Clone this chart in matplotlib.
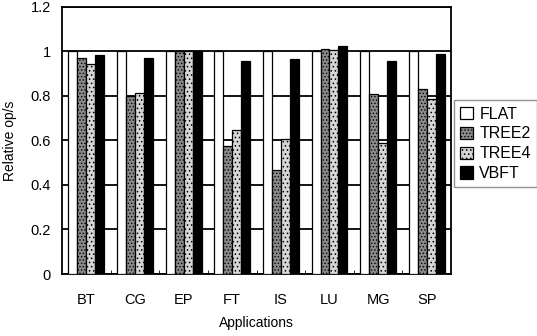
"""
Relative op/s per application, grouped bars
"""
import numpy as np
import matplotlib
matplotlib.use("Agg")
import matplotlib.pyplot as plt

plt.rcParams['font.family'] = ['Liberation Sans', 'DejaVu Sans']
plt.rcParams['hatch.linewidth'] = 0.6

apps = ["BT", "CG", "EP", "FT", "IS", "LU", "MG", "SP"]
flat = [1.0, 1.0, 1.0, 1.0, 1.0, 1.0, 1.0, 1.0]
tree2 = [0.97, 0.80, 1.0, 0.575, 0.465, 1.01, 0.81, 0.83]
tree4 = [0.945, 0.815, 1.0, 0.645, 0.605, 1.005, 0.59, 0.785]
vbft = [0.985, 0.97, 1.0, 0.955, 0.965, 1.025, 0.955, 0.99]

series = [("FLAT", flat, "white", None),
          ("TREE2", tree2, "#8a8a8a", "....."),
          ("TREE4", tree4, "#d6d6d6", "...."),
          ("VBFT", vbft, "black", None)]

fig = plt.figure(figsize=(5.37, 3.36), dpi=100)
ax = fig.add_axes([0.1155, 0.1845, 0.7245, 0.795])

x = np.arange(len(apps))
w = 0.185
for i, (name, vals, color, hatch) in enumerate(series):
    ax.bar(x + (i - 1.5) * w, vals, w, color=color, edgecolor="black",
           linewidth=0.9, hatch=hatch, label=name, zorder=3)

ax.set_xlim(-0.5, len(apps) - 0.5)
ax.set_ylim(0, 1.2)
ax.set_yticks(np.arange(0, 1.21, 0.2))
ax.set_yticklabels(["0", "0.2", "0.4", "0.6", "0.8", "1", "1.2"])
ax.yaxis.grid(True, color="black", linewidth=1.3, zorder=0)
ax.set_axisbelow(True)
ax.set_xticks(x)
ax.set_xticklabels(apps)
ax.set_xticks(np.arange(0.5, len(apps) - 0.5, 1), minor=True)
ax.tick_params(axis="x", which="major", length=0, pad=14, labelsize=10.5)
ax.tick_params(axis="x", which="minor", direction="in", length=3)
ax.tick_params(axis="y", length=0, pad=8, labelsize=10.5)
for s in ax.spines.values():
    s.set_linewidth(1.3)

ax.set_xlabel("Applications", fontsize=10, labelpad=6)
ax.set_ylabel("Relative op/s", fontsize=10, labelpad=10)

fig.legend(loc="center left", bbox_to_anchor=(0.845, 0.572), fontsize=11.5,
           frameon=True, fancybox=False, edgecolor="#777777",
           handlelength=0.8, handleheight=0.8, handletextpad=0.4,
           borderpad=0.4, labelspacing=0.3, borderaxespad=0)

fig.savefig("out.png", dpi=100)
